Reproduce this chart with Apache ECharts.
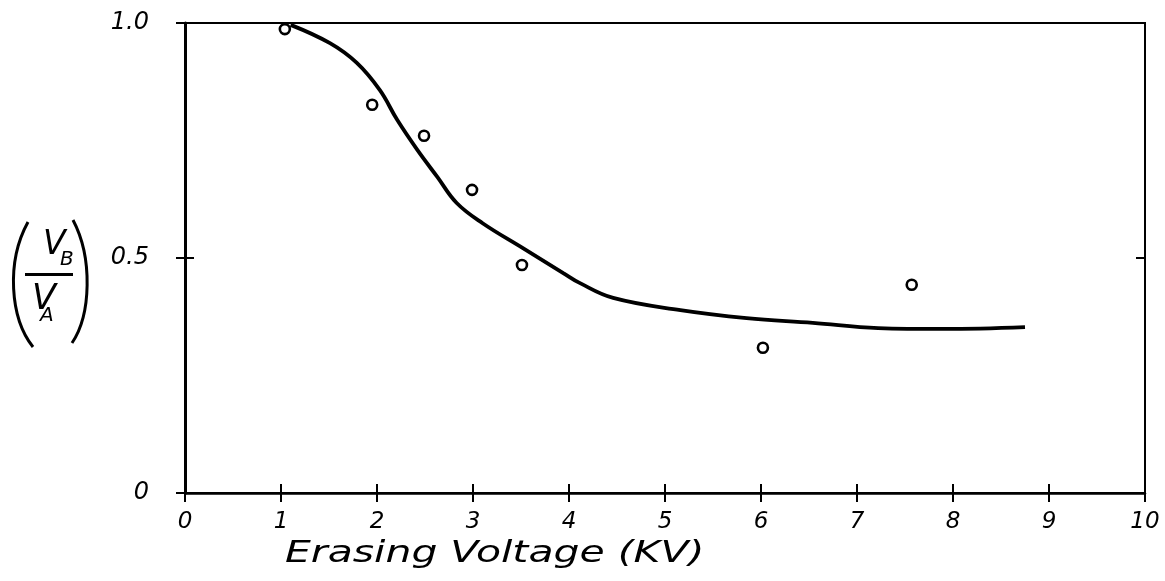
<!DOCTYPE html>
<html>
	<head>
		<meta charset="UTF-8">
		<title>Erasing Voltage</title>
		<style type="text/css">
			html, body { margin: 0; padding: 0; background: #fff; }
			#box { width: 1165px; height: 581px; }
		</style>
		<script src="https://cdn.jsdelivr.net/npm/echarts@6/dist/echarts.min.js"></script>
	</head>
	<body>
		<div id="box"></div>
		<script>
			// measured points (circles)
			var voltageObs = [1.04, 1.95, 2.49, 2.99, 3.51, 6.02, 7.57];
			var ratioObs = [0.987, 0.826, 0.760, 0.645, 0.485, 0.309, 0.443];

			// hand drawn curve
			var voltageFit = [1.10, 1.51, 1.79, 2.03, 2.21, 2.42, 2.63, 2.83, 3.10, 3.52, 3.94, 4.11, 4.46, 5.16, 5.85, 6.54, 7.22, 7.90, 8.75];
			var ratioFit = [0.996, 0.957, 0.915, 0.857, 0.794, 0.730, 0.672, 0.617, 0.574, 0.521, 0.468, 0.447, 0.415, 0.389, 0.372, 0.362, 0.351, 0.349, 0.353];

			var yTickLabels = { '0': '0', '0.5': '0.5', '1': '1.0' };

			var font = 'DejaVu Sans';
			var chart = echarts.init(document.getElementById('box'));

			function pairs(xs, ys) {
				var out = [];
				for (var i = 0; i < xs.length; i++) out.push([xs[i], ys[i]]);
				return out;
			}

			function letter(txt, x, y, size, sx) {
				return {
					type: 'text', x: x, y: y, scaleX: sx || 1,
					style: { text: txt, fontSize: size, fontStyle: 'italic', fontFamily: font, fill: '#000', verticalAlign: 'top' }
				};
			}

			var option = {
				animation: false,
				grid: {
					left: 185, right: 20, top: 23, bottom: 88,
					show: true, borderColor: '#000', borderWidth: 2
				},
				xAxis: [{
					type: 'value', min: 0, max: 10, interval: 1,
					axisLine: { lineStyle: { color: '#000', width: 2.5 } },
					axisTick: { length: 9, lineStyle: { color: '#000', width: 2 } },
					axisLabel: {
						color: '#000', fontSize: 23, fontStyle: 'italic', fontFamily: font, margin: 18
					},
					splitLine: { show: false }
				}, {
					type: 'value', min: 0, max: 10, interval: 1, position: 'bottom',
					axisLine: { show: false },
					axisTick: { inside: true, length: 9, lineStyle: { color: '#000', width: 2 } },
					axisLabel: { show: false },
					splitLine: { show: false }
				}],
				yAxis: [{
					type: 'value', min: 0, max: 1, interval: 0.5,
					axisLine: { lineStyle: { color: '#000', width: 2 } },
					axisTick: { length: 9, lineStyle: { color: '#000', width: 2 } },
					axisLabel: {
						color: '#000', fontSize: 24, fontStyle: 'italic', fontFamily: font, margin: 36,
						formatter: function (v) { return yTickLabels[String(v)]; }
					},
					splitLine: { show: false }
				}, {
					type: 'value', min: 0, max: 1, interval: 0.5, position: 'right',
					axisLine: { show: true, lineStyle: { color: '#000', width: 3 } },
					axisTick: { show: true, length: 9, lineStyle: { color: '#000', width: 2 } },
					axisLabel: { show: false },
					splitLine: { show: false }
				}, {
					type: 'value', min: 0, max: 1, interval: 0.5, position: 'right',
					axisLine: { show: false },
					axisTick: { show: true, inside: true, length: 9, lineStyle: { color: '#000', width: 2 } },
					axisLabel: { show: false },
					splitLine: { show: false }
				}],
				graphic: [
					// x axis title, stretched like the hand lettering
					letter('Erasing Voltage (KV)', 285, 538, 31, 1.32),
					// y axis title: (V_B / V_A)
					{ type: 'bezierCurve',
						shape: { x1: 28, y1: 222, cpx1: 6, cpy1: 262, cpx2: 10, cpy2: 318, x2: 33, y2: 347 },
						style: { stroke: '#000', lineWidth: 3, fill: null } },
					{ type: 'bezierCurve',
						shape: { x1: 73, y1: 220, cpx1: 93, cpy1: 258, cpx2: 91, cpy2: 315, x2: 72, y2: 343 },
						style: { stroke: '#000', lineWidth: 3, fill: null } },
					letter('V', 43, 229, 33),
					letter('B', 60, 250, 20),
					{ type: 'rect', shape: { x: 25, y: 273, width: 48, height: 3 }, style: { fill: '#000' } },
					letter('V', 32, 282, 35),
					letter('A', 40, 306, 20)
				],
				series: [{
					name: 'fit',
					type: 'line',
					smooth: 0.4,
					showSymbol: false,
					lineStyle: { color: '#000', width: 3.8 },
					data: pairs(voltageFit, ratioFit),
					z: 2
				}, {
					name: 'measured',
					type: 'scatter',
					symbol: 'circle',
					symbolSize: 10,
					itemStyle: { color: '#fff', borderColor: '#000', borderWidth: 2.6, opacity: 1 },
					data: pairs(voltageObs, ratioObs),
					z: 3
				}]
			};

			chart.setOption(option);
		</script>
	</body>
</html>
